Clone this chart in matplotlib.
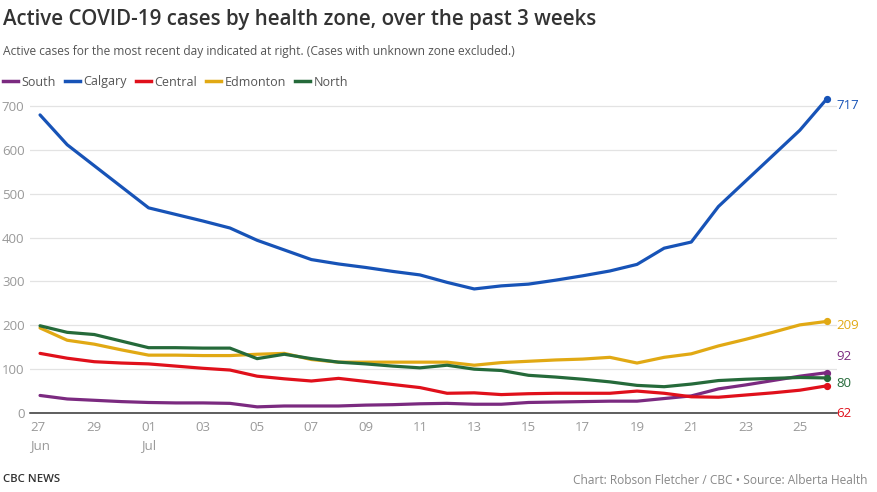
import numpy as np
import matplotlib.pyplot as plt
from matplotlib.lines import Line2D

plt.rcParams['font.family'] = ['Open Sans', 'DejaVu Sans']

# days since Jun 27 (Jun 27 .. Jul 26)
days = list(range(30))
tick_days = list(range(0, 30, 2))
tick_labels = ["27\nJun", "29", "01\nJul", "03", "05", "07", "09", "11",
               "13", "15", "17", "19", "21", "23", "25"]

south = [40, 32, 29, 26, 24, 23, 23, 22, 14, 16, 16, 16, 18, 19, 21, 22,
         20, 20, 24, 25, 26, 27, 27, 33, 39, 55, 64, 74, 84, 92]
calgary = [680, 612, 564, 516, 468, 453, 438, 422, 394, 372, 350, 340,
           332, 323, 315, 298, 283, 290, 294, 303, 313, 324, 339, 376,
           390, 471, 529, 587, 645, 717]
central = [136, 125, 117, 114, 112, 107, 102, 98, 84, 78, 73, 79, 72, 65,
           58, 45, 46, 42, 44, 45, 45, 45, 50, 45, 37, 36, 41, 46, 52, 62]
edmonton = [194, 166, 157, 144, 132, 132, 131, 131, 134, 136, 122, 116,
            116, 116, 116, 116, 109, 115, 118, 121, 123, 127, 114, 127, 135,
            153, 168, 184, 201, 209]
north = [199, 184, 179, 164, 149, 149, 148, 148, 124, 134, 124, 116, 112,
         107, 103, 109, 100, 97, 86, 82, 77, 71, 63, 60, 66, 74, 77, 79, 81,
         80]

names = ["South", "Calgary", "Central", "Edmonton", "North"]
series = [south, calgary, central, edmonton, north]
colors = ["#7b2a80", "#1753b7", "#e0101b", "#e1a914", "#256a3a"]
label_offsets = [12, -5, -20, -3, -4]  # pixel nudges for end labels

fig = plt.figure(figsize=(8.78, 4.92), dpi=100)
ax = fig.add_axes([30 / 878, 1 - 413 / 492, 807 / 878, 320 / 492])

for vals, c, off in zip(series, colors, label_offsets):
    ax.plot(days, vals, color=c, lw=2.3, solid_capstyle="round", zorder=3)
    ax.plot(days[-1], vals[-1], "o", color=c, ms=4.2, zorder=4)
    ax.annotate(str(vals[-1]), (days[-1], vals[-1]), xytext=(7, off),
                textcoords="offset points", color=c, fontsize=9.5,
                va="center", ha="left", annotation_clip=False)

ax.set_xlim(-0.37, 29.37)
ax.set_ylim(0, 730)
ax.set_yticks(range(0, 701, 100))
ax.set_xticks(tick_days)
ax.set_xticklabels(tick_labels, ha="center", linespacing=1.5)
for lab in ax.get_xticklabels():
    lab.set_multialignment("left")
ax.tick_params(length=0, colors="#999999", labelsize=9.5)
ax.tick_params(axis="y", pad=4)
ax.tick_params(axis="x", pad=6)
ax.grid(axis="y", color="#e3e3e3", lw=0.9)
ax.set_axisbelow(True)
for s in ["top", "right", "left"]:
    ax.spines[s].set_visible(False)
ax.spines["bottom"].set_color("#333333")
ax.spines["bottom"].set_linewidth(1.1)
ax.spines["bottom"].set_zorder(5)

fig.text(3 / 878, 1 - 20 / 492, "Active COVID-19 cases by health zone, over the past 3 weeks",
         fontsize=14.8, fontweight="semibold", color="#333333", va="center")
fig.text(3 / 878, 1 - 52 / 492,
         "Active cases for the most recent day indicated at right. (Cases with unknown zone excluded.)",
         fontsize=8.65, color="#555555", va="center")

handles = [Line2D([], [], color=c, lw=2.5) for c in colors]
fig.legend(handles, names, loc="center left", bbox_to_anchor=(3 / 878, 1 - 82 / 492),
           ncol=5, frameon=False, fontsize=9, handlelength=1.2, handletextpad=0.3,
           columnspacing=0.7, borderpad=0, borderaxespad=0, labelcolor="#555555")

fig.text(3 / 878, 1 - 480 / 492, "CBC NEWS", fontsize=8.2, fontweight="semibold",
         color="#333333", va="center")
fig.text(868 / 878, 1 - 480 / 492, "Chart: Robson Fletcher / CBC \u2022 Source: Alberta Health",
         fontsize=8.55, color="#888888", va="center", ha="right")

fig.savefig("out.png", dpi=100)
